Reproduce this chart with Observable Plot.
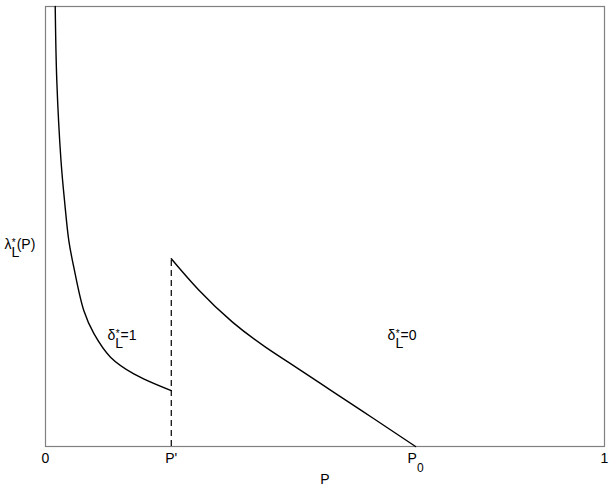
<!DOCTYPE html>
<html><head><meta charset="utf-8">
<script src="https://cdn.jsdelivr.net/npm/d3@7"></script>
<script src="https://cdn.jsdelivr.net/npm/@observablehq/plot@0.6"></script>
<style>body{margin:0;background:#fff} svg{display:block}</style>
</head><body><div id="chart"></div>
<script>
// ---- data ----
const leftP  = [0.0174, 0.0202, 0.0277, 0.034, 0.0417, 0.0506, 0.0685, 0.0864, 0.1163, 0.158, 0.225];
const leftL  = [1.0,    0.832,  0.650,  0.559, 0.468,  0.4075, 0.309,  0.257,  0.203,  0.165, 0.127];
const rightP = [0.225,  0.2737, 0.3345, 0.3936, 0.4383, 0.5152, 0.5868, 0.662];
const rightL = [0.4266, 0.3561, 0.2827, 0.2257, 0.1882, 0.1236, 0.0636, 0];
const pPrime = 0.225;
const p0 = 0.662;
const xTicks = [0, pPrime, p0, 1];
const xTickLabels = ["0", "P'", "P0", "1"];
const regionLabels = ["δL*=1", "δL*=0"];
const regionP = [0.111, 0.612];
const regionL = [0.243, 0.243];
const yLabel = "λL*(P)";
const xLabel = "P";

const leftData = leftP.map((p, i) => ({p, l: leftL[i]}));
const rightData = rightP.map((p, i) => ({p, l: rightL[i]}));
const regionData = regionLabels.map((t, i) => ({t, p: regionP[i], l: regionL[i]}));
const peak = rightL[0];

const font = "'Liberation Sans', Arial, Helvetica, sans-serif";

const svg = Plot.plot({
  width: 612,
  height: 487,
  marginLeft: 45,
  marginRight: 8,
  marginTop: 6,
  marginBottom: 41,
  style: {fontFamily: font, fontSize: "14px", background: "#fff", color: "#000"},
  x: {domain: [0, 1]},
  y: {domain: [0, 1]},
  marks: [
    Plot.frame({stroke: "#808080", strokeWidth: 1.2}),
    Plot.axisX({ticks: xTicks, tickFormat: (d) => xTickLabels[xTicks.indexOf(d)], tickSize: 0, tickPadding: 7,
      label: xLabel, labelAnchor: "center", labelOffset: 37, labelArrow: "none", fontSize: 14}),
    Plot.axisY({ticks: [], label: null}),
    Plot.ruleX([pPrime], {y1: 0, y2: peak, stroke: "#000", strokeWidth: 1.2, strokeDasharray: "6,4"}),
    Plot.line(leftData, {x: "p", y: "l", curve: "catmull-rom", stroke: "#000", strokeWidth: 1.4}),
    Plot.line(rightData, {x: "p", y: "l", curve: "natural", stroke: "#000", strokeWidth: 1.4}),
    Plot.text(regionData, {x: "p", y: "l", text: "t", textAnchor: "start", lineAnchor: "bottom", fontSize: 14, fill: "#000"}),
    Plot.text([yLabel], {x: 0, y: 0.45, dx: -41, textAnchor: "start", lineAnchor: "bottom", fontSize: 14, fill: "#000"})
  ]
});

function setRich(el, parts) {
  const s = d3.select(el);
  s.text(null);
  for (const p of parts) {
    const ts = s.append("tspan").text(p.t);
    if (p.dx) ts.attr("dx", p.dx);
    if (p.dy) ts.attr("dy", p.dy);
    if (p.fs) ts.attr("font-size", p.fs);
  }
}

d3.select(svg).selectAll("text").each(function() {
  const t = this.textContent;
  if (t === "P0") {
    setRich(this, [{t: "P"}, {t: "0", dy: 9, fs: 12}]);
  } else if (t === "δL*=1" || t === "δL*=0") {
    setRich(this, [{t: "δ"}, {t: "L", dy: 8}, {t: "*", dx: -7.5, dy: -11, fs: 10}, {t: t.slice(3), dy: 3, dx: 1}]);
  } else if (t === yLabel) {
    setRich(this, [{t: "λ"}, {t: "L", dy: 8}, {t: "*", dx: -7.5, dy: -11, fs: 10}, {t: "(P)", dy: 3, dx: 1}]);
  }
});

document.getElementById("chart").appendChild(svg);
</script>
</body></html>
